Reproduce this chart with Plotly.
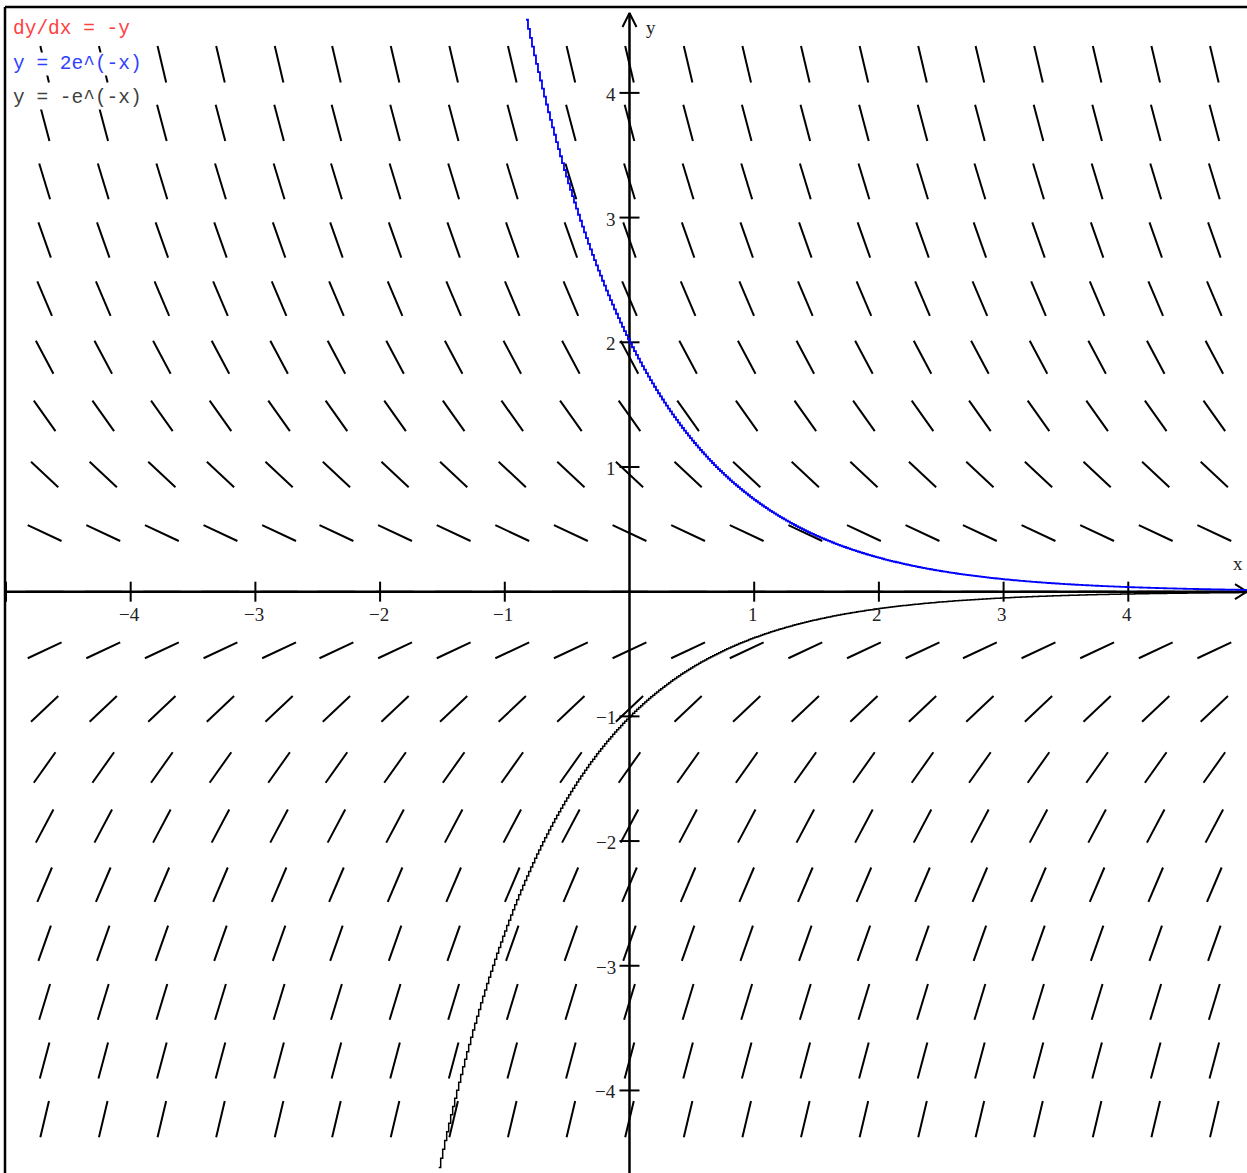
import numpy as np
import plotly.graph_objects as go

# ---- data ----
grid_x = [-4.69, -4.22, -3.75, -3.28, -2.81, -2.35, -1.88, -1.41, -0.94, -0.47, 0.0,
          0.47, 0.94, 1.41, 1.88, 2.35, 2.81, 3.28, 3.75, 4.22, 4.69]
grid_y = [-4.23, -3.76, -3.29, -2.82, -2.35, -1.88, -1.41, -0.94, -0.47, 0.0,
          0.47, 0.94, 1.41, 1.88, 2.35, 2.82, 3.29, 3.76, 4.23]
x_ticks = [-4, -3, -2, -1, 1, 2, 3, 4]
x_tick_labels = ["\u22124", "\u22123", "\u22122", "\u22121", "1", "2", "3", "4"]
y_ticks = [-4, -3, -2, -1, 1, 2, 3, 4]
y_tick_labels = ["\u22124", "\u22123", "\u22122", "\u22121", "1", "2", "3", "4"]
legend_texts = ["dy/dx = -y", "y = 2e^(-x)", "y = -e^(-x)"]
legend_colors = ["#ff4040", "#3040ff", "#404040"]
curve_coeffs = [2.0, -1.0]          # y = c * e^(-x)
curve_x_start = [-0.83, -1.53]
curve_colors = ["#0000ff", "#000000"]
curve_widths = [1.8, 1.5]

W, H = 1247, 1173
XMIN, XMAX = -5.048, 4.952
YMIN, YMAX = -4.662, 4.745
sx = W / (XMAX - XMIN)
sy = H / (YMAX - YMIN)
def px_to_x(p): return XMIN + p / sx
def px_to_y(p): return YMAX - p / sy

fig = go.Figure()

# slope field segments (dy/dx = -y)
half = 0.15
sxs, sys_ = [], []
for gy in grid_y:
    for gx in grid_x:
        m = -gy
        n = np.hypot(1, m)
        dx, dy = half / n, half * m / n
        sxs += [gx - dx, gx + dx, None]
        sys_ += [gy - dy, gy + dy, None]
fig.add_trace(go.Scatter(x=sxs, y=sys_, mode="lines",
                         line=dict(color="black", width=2), hoverinfo="skip"))

# axes
ax_left = px_to_x(6)
y_top = px_to_y(13)
fig.add_trace(go.Scatter(x=[ax_left, XMAX], y=[0, 0], mode="lines",
                         line=dict(color="black", width=2.5), hoverinfo="skip"))
fig.add_trace(go.Scatter(x=[0, 0], y=[YMIN, y_top], mode="lines",
                         line=dict(color="black", width=2.5), hoverinfo="skip"))
# arrowheads
fig.add_trace(go.Scatter(x=[XMAX - 12 / sx, XMAX, XMAX - 12 / sx],
                         y=[7.5 / sy, 0, -7.5 / sy], mode="lines",
                         line=dict(color="black", width=2), hoverinfo="skip"))
fig.add_trace(go.Scatter(x=[-7 / sx, 0, 7 / sx],
                         y=[y_top - 14 / sy, y_top, y_top - 14 / sy], mode="lines",
                         line=dict(color="black", width=2), hoverinfo="skip"))
# ticks
tx, ty = [], []
for v in x_ticks:
    tx += [v, v, None]; ty += [-10 / sy, 10 / sy, None]
for v in y_ticks:
    tx += [-10 / sx, 10 / sx, None]; ty += [v, v, None]
tx += [ax_left, ax_left, None]; ty += [-10 / sy, 10 / sy, None]
fig.add_trace(go.Scatter(x=tx, y=ty, mode="lines",
                         line=dict(color="black", width=2), hoverinfo="skip"))

# solution curves (stepped like the raster plot)
for c, x0, col, w in zip(curve_coeffs, curve_x_start, curve_colors, curve_widths):
    xs = np.arange(x0, XMAX + 0.02, 2.0 / sx)
    fig.add_trace(go.Scatter(x=xs, y=c * np.exp(-xs), mode="lines",
                             line=dict(color=col, width=w, shape="hv"), hoverinfo="skip"))

tick_font = dict(family="Liberation Serif, Times New Roman, serif", size=19, color="#222")
annotations = []
for v, t in zip(x_ticks, x_tick_labels):
    annotations.append(dict(x=v - 1.5 / sx, y=-23 / sy, text=t, showarrow=False,
                            xanchor="center", yanchor="middle", font=tick_font))
for v, t in zip(y_ticks, y_tick_labels):
    annotations.append(dict(x=-11 / sx, y=v - 1.5 / sy, text=t, showarrow=False,
                            xanchor="right", yanchor="middle", font=tick_font))
annotations.append(dict(x=px_to_x(1238), y=px_to_y(563), text="x", showarrow=False,
                        xanchor="center", yanchor="middle",
                        font=dict(family="Liberation Serif, serif", size=19, color="#222")))
annotations.append(dict(x=px_to_x(651), y=px_to_y(27), text="y", showarrow=False,
                        xanchor="center", yanchor="middle",
                        font=dict(family="Liberation Serif, serif", size=19, color="#222")))
for i, (t, col) in enumerate(zip(legend_texts, legend_colors)):
    annotations.append(dict(xref="paper", yref="paper", x=12 / W,
                            y=1 - (29 + 34.5 * i) / H, text=t, showarrow=False,
                            xanchor="left", yanchor="middle", bgcolor="white",
                            borderpad=0,
                            font=dict(family="Liberation Mono, Courier New, monospace",
                                      size=19.5, color=col)))

shapes = [
    dict(type="line", xref="paper", yref="paper", x0=5 / W, x1=5 / W, y0=0, y1=1 - 7 / H,
         line=dict(color="black", width=2.5)),
    dict(type="line", xref="paper", yref="paper", x0=5 / W, x1=1, y0=1 - 7 / H, y1=1 - 7 / H,
         line=dict(color="black", width=2.5)),
]

fig.update_layout(
    width=W, height=H, autosize=False,
    margin=dict(l=0, r=0, t=0, b=0, pad=0),
    paper_bgcolor="white", plot_bgcolor="white",
    showlegend=False,
    xaxis=dict(range=[XMIN, XMAX], visible=False, showgrid=False, zeroline=False, fixedrange=True),
    yaxis=dict(range=[YMIN, YMAX], visible=False, showgrid=False, zeroline=False, fixedrange=True),
    annotations=annotations, shapes=shapes,
)
fig.write_html("out.html", config={"displayModeBar": False},
               post_script="document.body.style.margin='0';document.body.style.overflow='hidden';")
